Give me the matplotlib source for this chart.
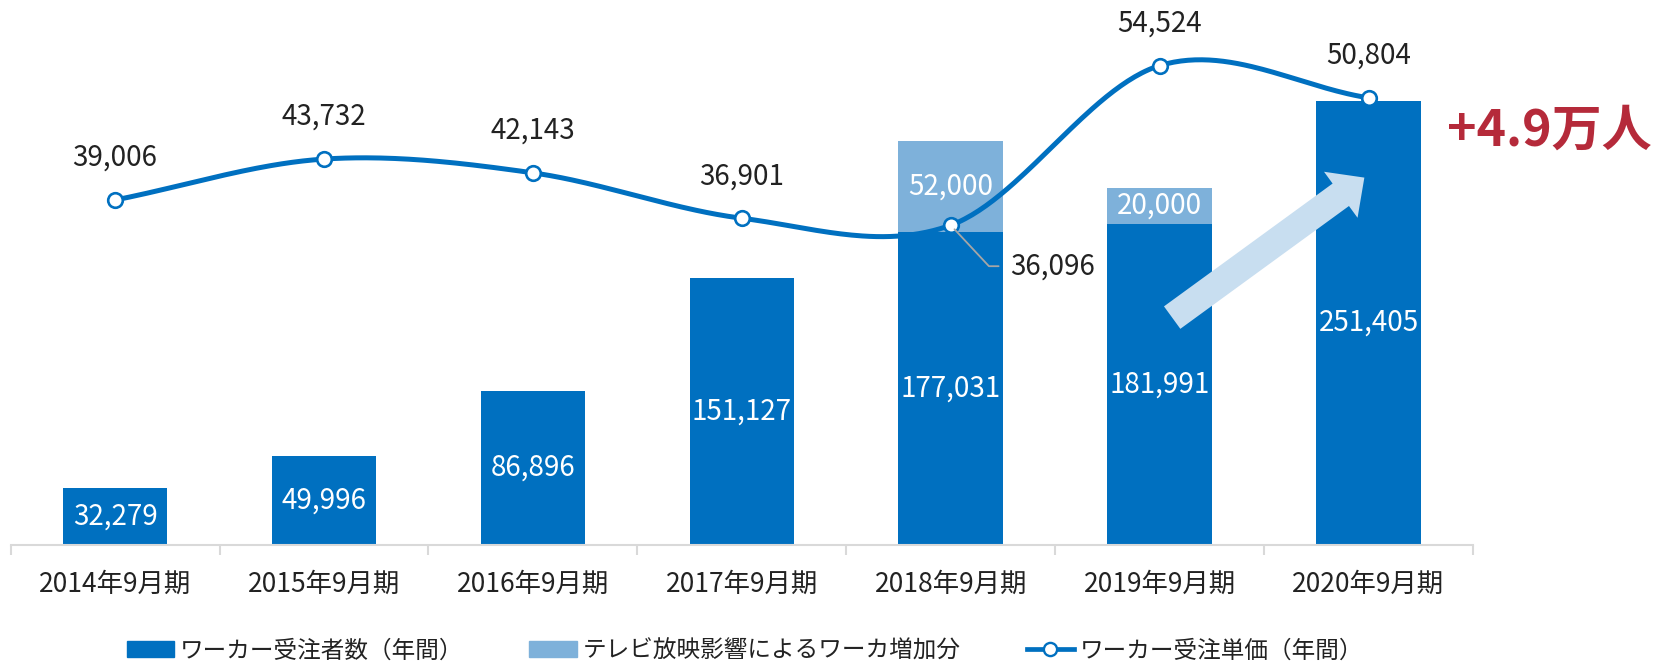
import numpy as np
import matplotlib
matplotlib.use("Agg")
import matplotlib.pyplot as plt
from matplotlib.patches import Patch
from matplotlib.lines import Line2D

plt.rcParams['font.family'] = ['Noto Sans CJK JP', 'DejaVu Sans']

# ---- data ----
categories = ["2014年9月期", "2015年9月期", "2016年9月期", "2017年9月期",
              "2018年9月期", "2019年9月期", "2020年9月期"]
workers = [32279, 49996, 86896, 151127, 177031, 181991, 251405]
tv_effect = [0, 0, 0, 0, 52000, 20000, 0]
unit_price = [39006, 43732, 42143, 36901, 36096, 54524, 50804]
legend_labels = ["ワーカー受注者数（年間）", "テレビ放映影響によるワーカ増加分", "ワーカー受注単価（年間）"]
callout_text = "+4.9万人"

DARK = "#0070C0"
LIGHT = "#7EB1DA"
ARROW = "#C8DEF0"
RED = "#B52A3A"
TXT = "#222222"
GRID = "#D9D9D9"

W, H = 1658, 663
fig = plt.figure(figsize=(W / 100, H / 100), dpi=100)
left_px, right_px, bottom_px, top_px = 10.6, 1473, 544.6, 20
ax = fig.add_axes([left_px / W, 1 - bottom_px / H, (right_px - left_px) / W, (bottom_px - top_px) / H])
ax2 = ax.twinx()

x = np.arange(len(categories))
ax.set_xlim(-0.5, len(categories) - 0.5)
ax.set_ylim(0, (bottom_px - top_px) * 567)
ax2.set_ylim(-785, 59791)

# bars
ax.bar(x, workers, width=0.5, color=DARK, zorder=2)
tv = np.array(tv_effect)
ax.bar(x[tv > 0], tv[tv > 0], width=0.5, bottom=np.array(workers)[tv > 0], color=LIGHT, zorder=2)

for xi, w in zip(x, workers):
    ax.text(xi, w / 2, f"{w:,}", ha="center", va="center", color="white", fontsize=20, zorder=3)
for xi, w, t in zip(x, workers, tv_effect):
    if t > 0:
        ax.text(xi, w + t / 2, f"{t:,}", ha="center", va="center", color="white", fontsize=20, zorder=3)

# smooth line (Catmull-Rom through the points)
px = np.array(x, dtype=float)
py = np.array(unit_price, dtype=float)
n = len(px)
xs, ys = [], []
for i in range(n - 1):
    p0 = py[i - 1] if i > 0 else py[i]
    p1, p2 = py[i], py[i + 1]
    p3 = py[i + 2] if i + 2 < n else py[i + 1]
    m1 = (p2 - p0) / (2 if i > 0 else 1)
    m2 = (p3 - p1) / (2 if i + 2 < n else 1)
    t = np.linspace(0, 1, 60)
    h00 = 2 * t**3 - 3 * t**2 + 1
    h10 = t**3 - 2 * t**2 + t
    h01 = -2 * t**3 + 3 * t**2
    h11 = t**3 - t**2
    xs.append(px[i] + t)
    ys.append(h00 * p1 + h10 * m1 + h01 * p2 + h11 * m2)
ax2.plot(np.concatenate(xs), np.concatenate(ys), color=DARK, lw=3.6, solid_capstyle="round", zorder=4)
ax2.plot(px, py, ls="none", marker="o", ms=10.5, mfc="white", mec=DARK, mew=1.9, zorder=5)

for i, (xi, v) in enumerate(zip(px, unit_price)):
    if i == 4:
        ax2.annotate(f"{v:,}", xy=(xi, v), xytext=(59, -41), textcoords="offset pixels",
                     ha="left", va="center", fontsize=20, color=TXT,
                     arrowprops=dict(arrowstyle="-", color="#A6A6A6", lw=1.3,
                                     connectionstyle="angle,angleA=0,angleB=-47,rad=0",
                                     shrinkA=6, shrinkB=4), zorder=6)
    else:
        ax2.annotate(f"{v:,}", xy=(xi, v), xytext=(0, 42), textcoords="offset pixels",
                     ha="center", va="center", fontsize=20, color=TXT, zorder=6)

# growth arrow
ax.annotate("", xy=(5.98, 367 * 567), xytext=(5.06, 227 * 567),
            arrowprops=dict(arrowstyle="simple,head_length=2.1,head_width=4.1,tail_width=2.0",
                            mutation_scale=10, color=ARROW, lw=0, shrinkA=0, shrinkB=0), zorder=3)

fig.text(1549 / W, 1 - 131 / H, callout_text, ha="center", va="center", fontsize=36,
         fontweight="bold", color=RED)

# axes styling
for s in ["top", "left", "right"]:
    ax.spines[s].set_visible(False)
    ax2.spines[s].set_visible(False)
ax2.spines["bottom"].set_visible(False)
ax.spines["bottom"].set_color(GRID)
ax.spines["bottom"].set_linewidth(1.5)
ax.set_yticks([])
ax2.set_yticks([])
ax.set_xticks(x)
ax.set_xticklabels(categories, fontsize=19, color=TXT)
ax.tick_params(axis="x", which="major", length=0, pad=19)
ax.set_xticks(np.arange(-0.5, len(categories), 1.0), minor=True)
ax.tick_params(axis="x", which="minor", length=7, width=1.5, color=GRID)

handles = [Patch(color=DARK), Patch(color=LIGHT),
           Line2D([0], [0], color=DARK, lw=3.4, marker="o", ms=9.5, mfc="white", mec=DARK, mew=1.7)]
fig.legend(handles, legend_labels, loc="center", bbox_to_anchor=(745 / W, 1 - 651 / H),
           ncol=3, frameon=False, fontsize=17, handlelength=2.0, handleheight=0.65,
           handletextpad=0.25, columnspacing=2.8, labelcolor=TXT)

fig.savefig("out.png", dpi=100)
